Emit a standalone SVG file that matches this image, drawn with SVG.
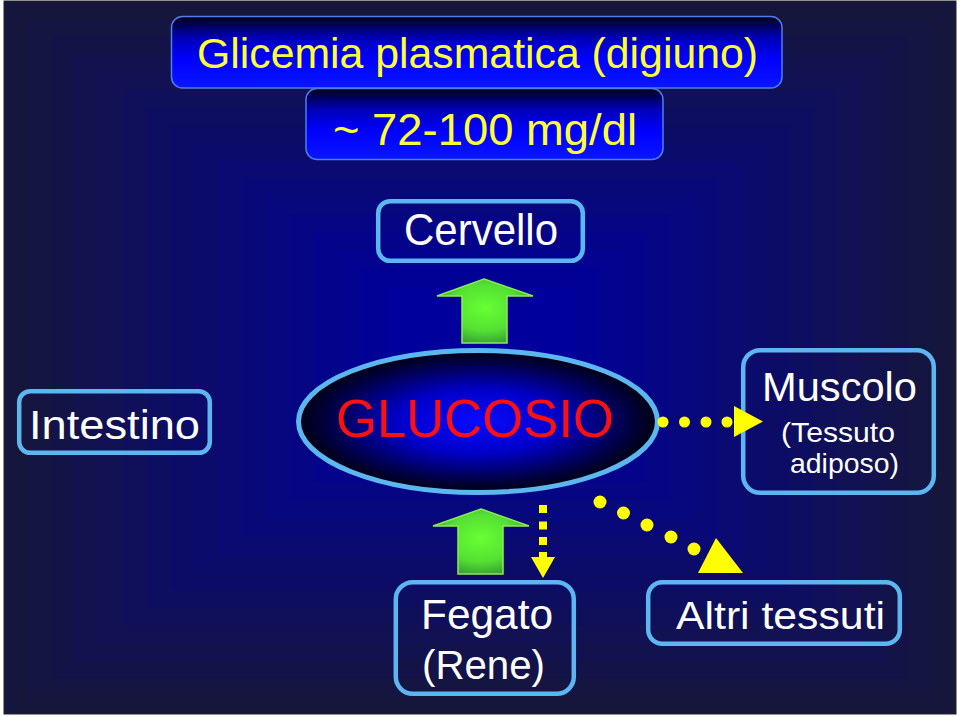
<svg xmlns="http://www.w3.org/2000/svg" width="960" height="717" viewBox="0 0 960 717">
<defs>
<linearGradient id="hdr" x1="0" y1="0" x2="0" y2="1">
<stop offset="0" stop-color="#000018"/>
<stop offset="0.3" stop-color="#0000b8"/>
<stop offset="0.6" stop-color="#0000ff"/>
<stop offset="1" stop-color="#0a16ff"/>
</linearGradient>
<radialGradient id="ell" cx="0.5" cy="0.5" r="0.5">
<stop offset="0" stop-color="#0a0aff"/>
<stop offset="0.45" stop-color="#0000c8"/>
<stop offset="0.8" stop-color="#000050"/>
<stop offset="1" stop-color="#000010"/>
</radialGradient>
<radialGradient id="grn" cx="0.5" cy="0.45" r="0.6">
<stop offset="0" stop-color="#66ff33"/>
<stop offset="0.6" stop-color="#55e033"/>
<stop offset="1" stop-color="#339933"/>
</radialGradient>
<style>
.hdr{fill:url(#hdr);stroke:#4d7fe8;stroke-width:1.5}
.nd{fill:none;stroke:#5cb6f0;stroke-width:4.5}
.t{font-family:"Liberation Sans","DejaVu Sans",sans-serif}
.y{fill:#ffff33}
.w{fill:#ffffff}
.g{fill:url(#grn);stroke:#88ee55;stroke-width:1.5}
.yl{fill:#ffff00}
</style>
</defs>
<rect x="0" y="0" width="960" height="717" fill="#ffffff"/>
<g id="background">
<rect x="4" y="1" width="952" height="713" fill="#16163c" stroke="#222" stroke-width="1"/>
<rect x="27.8" y="18.8" width="904.4" height="677.4" fill="#151542"/>
<rect x="51.6" y="36.6" width="856.8" height="641.7" fill="#131348"/>
<rect x="75.4" y="54.5" width="809.2" height="606" fill="#12124e"/>
<rect x="99.2" y="72.3" width="761.6" height="570.4" fill="#111154"/>
<rect x="123" y="90.1" width="714" height="534.8" fill="#0f0f5a"/>
<rect x="146.8" y="108" width="666.4" height="499.1" fill="#0e0e60"/>
<rect x="170.6" y="125.8" width="618.8" height="463.4" fill="#0c0c66"/>
<rect x="194.4" y="143.6" width="571.2" height="427.8" fill="#0b0b6c"/>
<rect x="218.2" y="161.4" width="523.6" height="392.2" fill="#0a0a72"/>
<rect x="242" y="179.2" width="476" height="356.5" fill="#080878"/>
<rect x="265.8" y="197.1" width="428.4" height="320.9" fill="#07077e"/>
<rect x="289.6" y="214.9" width="380.8" height="285.2" fill="#060684"/>
<rect x="313.4" y="232.7" width="333.2" height="249.6" fill="#04048a"/>
<rect x="337.2" y="250.5" width="285.6" height="213.9" fill="#030390"/>
<rect x="361" y="268.4" width="238" height="178.2" fill="#010196"/>
<rect x="384.8" y="286.2" width="190.4" height="142.6" fill="#00009c"/>
</g>
<g id="title">
<rect class="hdr" x="171.5" y="16.5" width="610.5" height="71.5" rx="11"/>
<text class="t y" x="197" y="68" font-size="43" textLength="561" lengthAdjust="spacingAndGlyphs">Glicemia plasmatica (digiuno)</text>
</g>
<g id="range">
<rect class="hdr" x="306" y="88.5" width="357" height="71" rx="11"/>
<text class="t y" x="333" y="145" font-size="44" textLength="304" lengthAdjust="spacingAndGlyphs">~ 72-100 mg/dl</text>
</g>
<g id="cervello">
<rect class="nd" x="378.2" y="201.2" width="204.6" height="59.6" rx="12"/>
<text class="t w" x="404" y="245" font-size="44" textLength="154" lengthAdjust="spacingAndGlyphs">Cervello</text>
</g>
<g id="intestino">
<rect class="nd" x="19.2" y="391.2" width="190.6" height="61.6" rx="11"/>
<text class="t w" x="29" y="439" font-size="41" textLength="171" lengthAdjust="spacingAndGlyphs">Intestino</text>
</g>
<g id="glucosio">
<ellipse cx="478" cy="421.5" rx="179.5" ry="71" fill="url(#ell)" stroke="#5cb6f0" stroke-width="5"/>
<text class="t" x="336" y="437" font-size="54" fill="#ff1010" textLength="278" lengthAdjust="spacingAndGlyphs">GLUCOSIO</text>
</g>
<g id="muscolo">
<rect class="nd" x="743.2" y="350.2" width="190.6" height="142.6" rx="17"/>
<text class="t w" x="762" y="401" font-size="41" textLength="155" lengthAdjust="spacingAndGlyphs">Muscolo</text>
<text class="t w" x="781" y="442" font-size="28" textLength="114" lengthAdjust="spacingAndGlyphs">(Tessuto</text>
<text class="t w" x="790" y="473" font-size="28" textLength="109" lengthAdjust="spacingAndGlyphs">adiposo)</text>
</g>
<g id="fegato">
<rect class="nd" x="395.8" y="582.2" width="178" height="111.6" rx="17"/>
<text class="t w" x="421" y="629" font-size="42" textLength="132" lengthAdjust="spacingAndGlyphs">Fegato</text>
<text class="t w" x="422" y="679" font-size="40" textLength="123" lengthAdjust="spacingAndGlyphs">(Rene)</text>
</g>
<g id="altri">
<rect class="nd" x="648.2" y="582.2" width="251.6" height="61.6" rx="14"/>
<text class="t w" x="676" y="629" font-size="38" textLength="209" lengthAdjust="spacingAndGlyphs">Altri tessuti</text>
</g>
<g id="connectors">
<path class="g" d="M484,279 L533,296 L507,296 L507,343 L462,343 L462,296 L437,296 Z"/>
<path class="g" d="M481,509 L529,526 L503,526 L503,574 L458,574 L458,526 L433,526 Z"/>
<g class="yl">
<circle cx="663" cy="422" r="5.5"/>
<circle cx="684.5" cy="422" r="5.5"/>
<circle cx="706" cy="422" r="5.5"/>
<circle cx="727" cy="422" r="5.5"/>
<path d="M734,406 L763,421.5 L734,437 Z"/>
<circle cx="600" cy="502" r="6.5"/>
<circle cx="623.5" cy="513" r="6.5"/>
<circle cx="647" cy="525" r="6.5"/>
<circle cx="671" cy="537" r="6.5"/>
<circle cx="694" cy="549" r="6.5"/>
<path d="M716,538 L743,573 L698,573 Z"/>
<rect x="539" y="505" width="8" height="8"/>
<rect x="539" y="521.5" width="8" height="8"/>
<rect x="539" y="537" width="8" height="8"/>
<path d="M539,552 L547,552 L547,557 L555,557 L543,578 L531,557 L539,557 Z"/>
</g>
</g>
</svg>
